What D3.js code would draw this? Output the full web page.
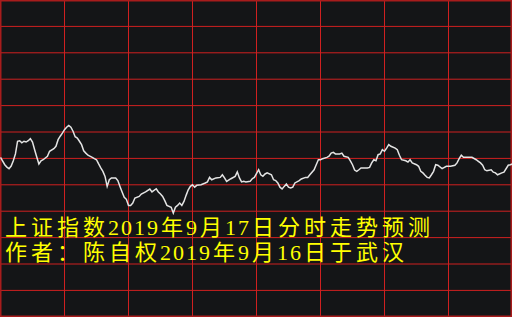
<!DOCTYPE html>
<html>
<head>
<meta charset="utf-8">
<script src="https://cdn.jsdelivr.net/npm/d3@7"></script>
<style>
html,body{margin:0;padding:0;background:#141517;overflow:hidden;}
svg{display:block;}
</style>
</head>
<body>
<svg id="chart" width="512" height="317"></svg>
<script>
// minute index (0 = 09:30, 240 = 15:00) and index price
const minutes = [0,2,3,4,5,6,7,8,9,10,11,12,13,14,15,16,17,18,19,20,22,23,25,26,27,28,29,30,31,32,33,34,35,36,37,38,39,40,41,43,44,45,46,47,48,49,50,51,52,54,55,56,57,58,59,60,61,62,63,65,66,68,70,71,73,74,75,76,77,78,80,81,82,83,84,85,86,87,88,89,90,91,92,94,96,97,98,99,101,103,104,105,106,108,110,111,112,113,114,115,117,118,119,
121,122,123,124,125,127,128,129,130,131,132,133,134,135,136,137,138,140,141,143,144,145,147,148,149,150,151,153,154,155,156,157,159,160,161,163,164,165,166,167,168,169,172,173,174,175,176,177,178,179,
180,181,182,183,185,186,187,188,190,191,192,193,195,196,197,198,199,200,201,202,203,204,205,207,209,211,213,214,215,216,217,218,220,221,223,224,225,226,227,228,230,231,232,233,235,236,238,239,240];
const prices = [3030.4,3027.6,3026.7,3026.1,3027.1,3029.1,3031.7,3036.5,3036.7,3035.9,3036.5,3036.2,3036.7,3037.5,3036.2,3033.3,3030.5,3027.9,3029.1,3029.5,3030.8,3032.7,3033.7,3034.6,3037.1,3038.4,3039.6,3040.9,3041.8,3042.5,3041.8,3040.3,3038.2,3037.7,3036.5,3035.2,3032.9,3032.0,3031.2,3030.4,3029.9,3029.5,3027.9,3026.4,3025.1,3023.2,3019.4,3021.9,3022.6,3022.6,3021.6,3019.4,3017.3,3015.3,3014.5,3012.2,3012.2,3013.1,3015.0,3015.6,3016.5,3017.3,3018.4,3017.3,3018.5,3017.3,3016.5,3015.6,3014.0,3012.2,3011.5,3009.3,3011.5,3012.2,3013.1,3012.2,3013.7,3016.0,3018.1,3019.4,3020.0,3019.1,3019.8,3020.0,3020.7,3021.1,3022.8,3021.9,3022.6,3022.8,3023.8,3022.6,3021.3,3022.3,3023.2,3024.9,3022.6,3021.1,3021.3,3021.1,3021.3,3022.3,3022.8,
3025.7,3023.8,3023.2,3024.1,3024.5,3023.8,3021.9,3021.6,3020.7,3019.1,3018.4,3019.4,3020.3,3019.1,3018.8,3019.1,3020.7,3021.6,3022.2,3022.8,3022.8,3023.8,3025.7,3027.6,3029.5,3029.5,3029.9,3030.4,3030.8,3032.0,3032.3,3031.7,3031.7,3032.0,3030.8,3030.4,3029.1,3027.6,3025.6,3025.1,3025.7,3026.4,3026.4,3026.6,3028.3,3029.5,3029.1,3031.4,3031.7,3033.3,
3032.7,3033.9,3035.2,3034.6,3033.9,3033.3,3031.2,3029.5,3029.1,3028.6,3029.5,3028.3,3027.6,3027.0,3025.1,3024.5,3023.6,3022.8,3022.6,3023.8,3025.1,3027.6,3027.4,3026.1,3027.0,3027.0,3027.4,3028.3,3029.9,3031.2,3030.4,3030.4,3030.4,3030.4,3029.5,3028.9,3028.3,3027.4,3025.7,3025.3,3025.7,3024.8,3024.5,3023.8,3024.5,3024.8,3027.4,3027.6,3027.9];
const preClose = 3030;
const priceStep = 10;
const minuteStep = 30;
const titleLines = ["上证指数2019年9月17日分时走势预测", "作者：陈自权2019年9月16日于武汉"];

const W = 512, H = 317;
const svg = d3.select("#chart");
svg.append("rect").attr("width", W).attr("height", H).attr("fill", "#141517");

const x = d3.scaleLinear().domain([0, 240]).range([0.5, 512.5]);
const y = d3.scaleLinear().domain([preClose - 6 * priceStep, preClose + 6 * priceStep]).range([316.8, 0]);

const gridColor = "#cf2020";
const g = svg.append("g");
g.selectAll("line.h").data(d3.range(1, 12).map(i => preClose - 6 * priceStep + i * priceStep))
  .join("line").attr("class", "h")
  .attr("x1", 0).attr("x2", W)
  .attr("y1", d => y(d)).attr("y2", d => y(d))
  .attr("stroke", gridColor).attr("stroke-width", 1);
g.selectAll("line.v").data(d3.range(minuteStep, 240, minuteStep))
  .join("line").attr("class", "v")
  .attr("x1", d => x(d)).attr("x2", d => x(d))
  .attr("y1", 0).attr("y2", H)
  .attr("stroke", gridColor).attr("stroke-width", 1);
g.append("rect").attr("x", 0.75).attr("y", 0.75).attr("width", W - 1.5).attr("height", H - 1.5)
  .attr("fill", "none").attr("stroke", "#a81c1c").attr("stroke-width", 1.5);

// price line
const data = minutes.map((m, i) => ({m, p: prices[i]}));
svg.append("path").datum(data)
  .attr("fill", "none")
  .attr("stroke", "#e4e4e4")
  .attr("stroke-width", 1.5)
  .attr("stroke-linejoin", "miter")
  .attr("d", d3.line().x(d => x(d.m)).y(d => y(d.p)));

// title text: one text element, one tspan per line, characters on a monospace grid
const fullAdv = 26, halfAdv = 13;
const baselines = [235, 260];
const title = svg.append("text")
  .attr("text-anchor", "middle")
  .attr("font-family", "'Liberation Serif', 'Noto Sans CJK SC', serif")
  .attr("font-size", 22)
  .attr("fill", "#ffff00");
titleLines.forEach((line, li) => {
  let cx = 3;
  const xs = Array.from(line).map(ch => {
    const adv = /[\x00-\x7f]/.test(ch) ? halfAdv : fullAdv;
    const v = cx + adv / 2;
    cx += adv;
    return v.toFixed(1);
  });
  title.append("tspan")
    .attr("x", xs.join(" "))
    .attr("y", baselines[li])
    .text(line);
});
</script>
</body>
</html>
